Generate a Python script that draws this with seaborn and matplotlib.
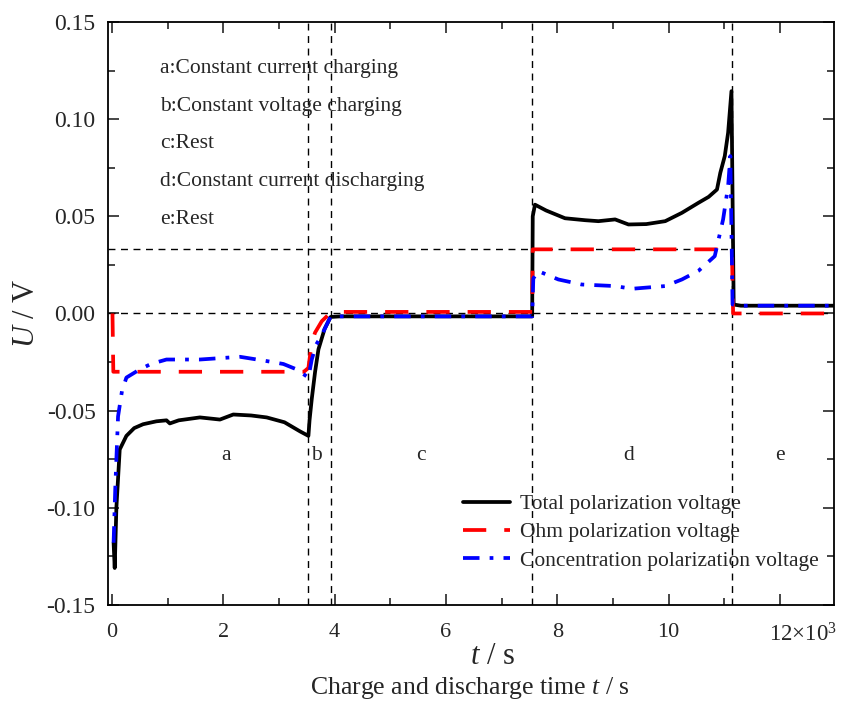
import numpy as np
import pandas as pd
import matplotlib
matplotlib.use("Agg")
import matplotlib.pyplot as plt
import seaborn as sns
from matplotlib.ticker import MultipleLocator, FixedLocator

# ---------------- data (t in s, U in V) ----------------
total_t = [30, 50, 80, 140, 260, 400, 560, 800, 980, 1040, 1200, 1580, 1940, 2180, 2500,
           2780, 3100, 3380, 3530, 3550, 3590, 3650, 3710, 3820, 3930, 4100, 7550, 7560,
           7600, 7800, 8140, 8500, 8740, 9040, 9280, 9600, 9940, 10240, 10540, 10720,
           10870, 10930, 11010, 11070, 11130, 11170, 11300, 12970]
total_u = [-0.118, -0.131, -0.100, -0.070, -0.063, -0.059, -0.057, -0.0555, -0.055, -0.0566,
           -0.055, -0.0535, -0.0546, -0.052, -0.0525, -0.0535, -0.056, -0.0607, -0.063,
           -0.055, -0.044, -0.030, -0.0185, -0.008, -0.0018, -0.0015, -0.0015, 0.050,
           0.056, 0.053, 0.049, 0.048, 0.0475, 0.0484, 0.0458, 0.046, 0.0475, 0.0518,
           0.057, 0.060, 0.0638, 0.0724, 0.081, 0.093, 0.1144, 0.0046, 0.004, 0.004]

ohm_t = [10, 25, 3300, 3450, 3530, 3590, 3650, 3770, 3940, 7550, 7560, 10900, 11100,
         11140, 11160, 12970]
ohm_u = [0.0, -0.030, -0.030, -0.030, -0.028, -0.015, -0.0098, -0.004, 0.0008, 0.0008,
         0.033, 0.033, 0.031, 0.030, 0.0, 0.0]

conc_t = [30, 60, 110, 180, 260, 500, 700, 980, 1580, 2300, 2780, 3080, 3320, 3530,
          3590, 3670, 3760, 3930, 7550, 7570, 7660, 8020, 8440, 9040, 9340, 9940, 10240,
          10540, 10830, 10980, 11070, 11110, 11150, 11300, 12970]
conc_u = [-0.118, -0.090, -0.053, -0.040, -0.033, -0.0288, -0.026, -0.0237, -0.0237,
          -0.0223, -0.0245, -0.026, -0.0288, -0.033, -0.0237, -0.016, -0.0117, -0.0015,
          -0.0015, 0.018, 0.0218, 0.0175, 0.0149, 0.0141, 0.0127, 0.0141, 0.0175, 0.022,
          0.0295, 0.0484, 0.0655, 0.081, 0.0046, 0.004, 0.004]

series_names = ["Total polarization voltage", "Ohm polarization voltage",
                "Concentration polarization voltage"]
phase_bounds = [3530, 3930, 7550, 11140]
ohm_level = 0.033
phase_letters = ["a", "b", "c", "d", "e"]
phase_label_t = [2050, 3680, 5550, 9290, 12000]
phase_label_u = -0.073
phase_notes = ["a:Constant current charging", "b:Constant voltage charging", "c:Rest",
               "d:Constant current discharging", "e:Rest"]
x_ticks = [0, 2000, 4000, 6000, 8000, 10000, 12000]
x_ticklabels = ["0", "2", "4", "6", "8", "10", ""]
last_x_label = "12×10$^{3}$"
y_ticks = [-0.15, -0.10, -0.05, 0.00, 0.05, 0.10, 0.15]

# ---------------- style ----------------
sns.set_style("ticks")
serif = ["Liberation Serif", "DejaVu Serif"]
plt.rcParams["font.family"] = serif
plt.rcParams["mathtext.fontset"] = "custom"
plt.rcParams["mathtext.rm"] = "Liberation Serif"
plt.rcParams["mathtext.it"] = "Liberation Serif:italic"
plt.rcParams["axes.unicode_minus"] = False

fig = plt.figure(figsize=(8.44, 7.10), dpi=100)
ax = fig.add_axes([0.128, 0.148, 0.860, 0.821])

df_total = pd.DataFrame({"t": total_t, "U": total_u})
df_ohm = pd.DataFrame({"t": ohm_t, "U": ohm_u})
df_conc = pd.DataFrame({"t": conc_t, "U": conc_u})

# reference dashed lines
ref_kw = dict(color="black", lw=1.0, ls=(0, (5, 4)), zorder=1)
for b in phase_bounds:
    ax.axvline(b, **ref_kw)
ax.axhline(0.0, **ref_kw)
ax.hlines(ohm_level, -70, phase_bounds[-1], **ref_kw)

sns.lineplot(data=df_total, x="t", y="U", ax=ax, color="black", linewidth=2.7,
             estimator=None, sort=False, label=series_names[0], zorder=3)
sns.lineplot(data=df_ohm, x="t", y="U", ax=ax, color="#ff0000", linewidth=2.7,
             estimator=None, sort=False, label=series_names[1], zorder=4)
ax.lines[-1].set_dashes((6.2, 4.8))
sns.lineplot(data=df_conc, x="t", y="U", ax=ax, color="#0000ff", linewidth=2.7,
             estimator=None, sort=False, label=series_names[2], zorder=5)
ax.lines[-1].set_dashes((4.4, 2.7, 1.0, 2.7))

ax.set_xlim(-70, 12970)
ax.set_ylim(-0.15, 0.15)

ax.xaxis.set_major_locator(FixedLocator(x_ticks))
ax.set_xticklabels(x_ticklabels)
ax.xaxis.set_minor_locator(MultipleLocator(1000))
ax.set_yticks(y_ticks)
ax.set_yticklabels([f"{v:.2f}" for v in y_ticks])
ax.yaxis.set_minor_locator(MultipleLocator(0.025))
ax.tick_params(which="both", direction="in", top=True, right=True, width=1.2)
ax.tick_params(which="major", length=8)
ax.tick_params(which="minor", length=5)
ax.tick_params(axis="x", labelsize=16, pad=13)
ax.tick_params(axis="y", labelsize=17, pad=9)
for s in ax.spines.values():
    s.set_linewidth(1.3)
    s.set_color("black")

# last x tick label "12×10^3" (starts just left of its tick, as in the original)
ax.annotate(last_x_label, xy=(x_ticks[-1], 0), xycoords=("data", "axes fraction"),
            xytext=(-8, -13), textcoords="offset points", fontsize=16.5,
            ha="left", va="top", annotation_clip=False)

ax.set_xlabel("$\\mathit{t}$ / s", fontsize=22, labelpad=0)
ax.xaxis.label.set_x(0.530)
ax.set_ylabel("$\\mathit{U}$ / V", fontsize=22, labelpad=4)
fig.text(0.557, 0.031, "Charge and discharge time $\\mathit{t}$ / s", fontsize=18.5,
         ha="center", va="center")

for i, note in enumerate(phase_notes):
    ax.text(0.072, 0.920 - i * 0.0645, note, transform=ax.transAxes, fontsize=15.5,
            ha="left", va="center")
for lt, lx in zip(phase_letters, phase_label_t):
    ax.text(lx, phase_label_u, lt, fontsize=15.5, ha="center", va="center")

leg = ax.legend(loc="upper left", bbox_to_anchor=(0.489, 0.190), frameon=False,
                fontsize=15.5, handlelength=2.2, handletextpad=0.45,
                labelspacing=0.38, borderpad=0, borderaxespad=0)

fig.savefig("out.png", dpi=100)
